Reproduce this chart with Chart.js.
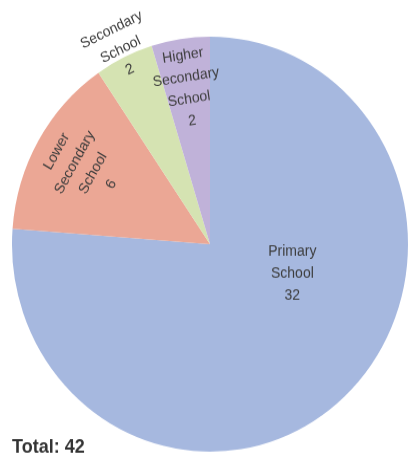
<!DOCTYPE html>
<html>
<head>
<meta charset="utf-8">
<title>Pupils by school level</title>
<script src="https://cdn.jsdelivr.net/npm/chart.js@4/dist/chart.umd.min.js"></script>
<style>
    body { margin: 0; background: #ffffff; }
</style>
</head>
<body>
<!-- drawn at 438px tall and stretched a little vertically -->
<canvas id="levelChart" width="411" height="438" style="display:block;width:411px;height:459px"></canvas>
<script>
// school levels and head counts
var categories = ['Primary School', 'Lower Secondary School', 'Secondary School', 'Higher Secondary School'];
var counts = [32, 6, 2, 2];
var sliceColors = ['#a6b8df', '#eba795', '#d5e3b2', '#c0b2d9'];

var total = counts.reduce(function(a, b) { return a + b; }, 0);

// where each slice label sits: fraction of the radius, optional fixed angle (deg),
// and whether the text turns with the slice
var labelPlacement = [
    { r: 0.44, angle: 19, turn: false },
    { r: 0.735, turn: true },
    { r: 1.04, turn: true },
    { r: 0.76, turn: true }
];

var sliceLabels = {
    id: 'sliceLabels',
    afterDatasetsDraw: function(chart) {
        var ctx = chart.ctx;
        var arcs = chart.getDatasetMeta(0).data;
        var values = chart.data.datasets[0].data;
        ctx.save();
        ctx.fillStyle = '#3c3c3c';
        ctx.font = '14px "Liberation Sans", Arial, sans-serif';
        ctx.textAlign = 'center';
        ctx.textBaseline = 'middle';
        arcs.forEach(function(arc, i) {
            var p = arc.getProps(['x', 'y', 'startAngle', 'endAngle', 'outerRadius'], true);
            var place = labelPlacement[i];
            var mid = (p.startAngle + p.endAngle) / 2;
            var a = place.angle !== undefined ? place.angle * Math.PI / 180 : mid;
            var dist = p.outerRadius * place.r;
            var lines = chart.data.labels[i].split(' ').concat([String(values[i])]);
            var lineHeight = 21;
            ctx.save();
            ctx.translate(p.x + Math.cos(a) * dist, p.y + Math.sin(a) * dist);
            if (place.turn) ctx.rotate(mid + Math.PI / 2);
            lines.forEach(function(line, k) {
                ctx.fillText(line, 0, (k - (lines.length - 1) / 2) * lineHeight);
            });
            ctx.restore();
        });

        // total in the bottom left corner
        ctx.font = 'bold 18px "Liberation Sans", Arial, sans-serif';
        ctx.fillStyle = '#333333';
        ctx.textAlign = 'left';
        ctx.textBaseline = 'alphabetic';
        ctx.fillText('Total: ' + total, 12, 432);
        ctx.restore();
    }
};

var ctx = document.getElementById('levelChart').getContext('2d');
var levelChart = new Chart(ctx, {
    type: 'pie',
    data: {
        labels: categories,
        datasets: [{
            data: counts,
            backgroundColor: sliceColors,
            borderWidth: 0,
            hoverOffset: 0
        }]
    },
    options: {
        responsive: false,
        animation: false,
        events: [],
        layout: {
            padding: { left: 12, right: 3, top: 35, bottom: 7 }
        },
        plugins: {
            legend: { display: false },
            tooltip: { enabled: false }
        }
    },
    plugins: [sliceLabels]
});
</script>
</body>
</html>
